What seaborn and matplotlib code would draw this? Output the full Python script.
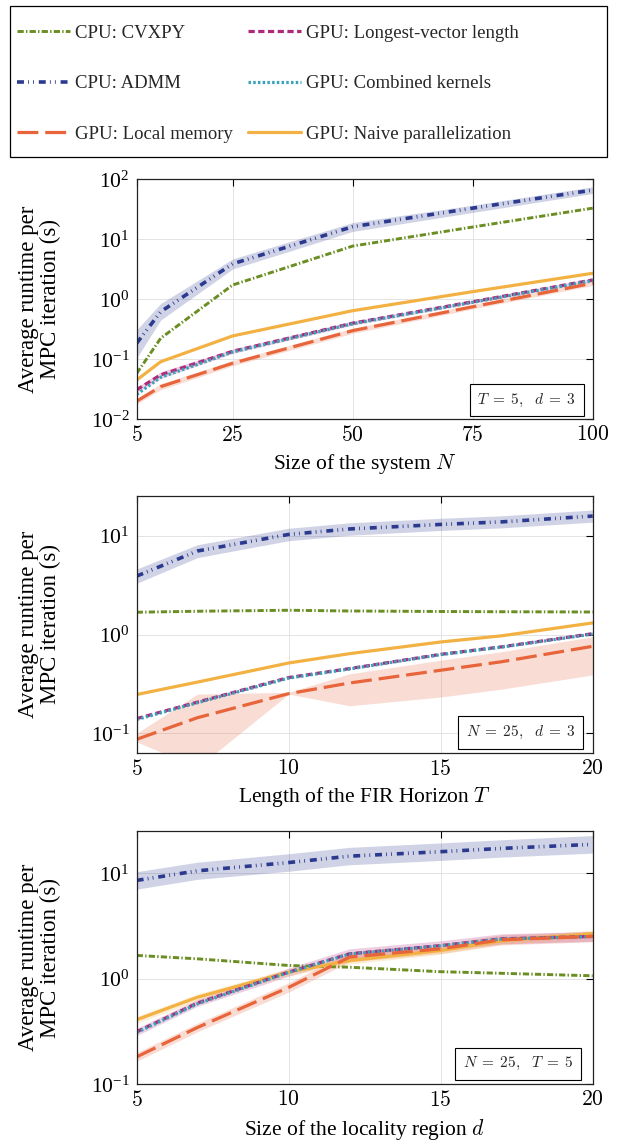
import numpy as np
import pandas as pd
import matplotlib
matplotlib.use('Agg')
import matplotlib.pyplot as plt
import seaborn as sns
from matplotlib.ticker import NullLocator, FuncFormatter
from matplotlib.patches import Rectangle

sns.set_theme(style='white')
plt.rcParams['font.family'] = ['Liberation Serif', 'DejaVu Serif']
plt.rcParams['mathtext.fontset'] = 'cm'
plt.rcParams['lines.scale_dashes'] = False

# panel 1: size of the system N  (T = 5, d = 3)
n_vals = [5, 10, 25, 50, 75, 100]
n_cvxpy = [0.058, 0.224, 1.73, 7.7, 16, 33]
n_admm = [0.185, 0.62, 3.9, 16.2, 33, 66]
n_admm_lo = [0.105, 0.45, 3.2, 13.5, 28, 58]
n_admm_hi = [0.31, 0.85, 4.7, 19, 37, 75]
n_local = [0.020, 0.035, 0.086, 0.30, 0.75, 1.85]
n_local_lo = [0.018, 0.031, 0.078, 0.27, 0.69, 1.7]
n_local_hi = [0.022, 0.039, 0.095, 0.33, 0.82, 2.0]
n_longest = [0.031, 0.055, 0.136, 0.40, 0.91, 2.1]
n_longest_lo = [0.028, 0.048, 0.125, 0.37, 0.85, 1.95]
n_longest_hi = [0.034, 0.062, 0.148, 0.43, 0.97, 2.25]
n_combined = [0.026, 0.050, 0.132, 0.39, 0.89, 2.05]
n_naive = [0.045, 0.091, 0.245, 0.645, 1.34, 2.71]

# panel 2: FIR horizon T  (N = 25, d = 3)
t_vals = [5, 7, 10, 12, 15, 17, 20]
t_cvxpy = [1.68, 1.72, 1.76, 1.73, 1.71, 1.70, 1.69]
t_admm = [3.9, 7.0, 10.3, 11.7, 13.0, 13.8, 15.8]
t_admm_lo = [3.3, 6.0, 8.9, 10.1, 11.3, 12.0, 13.7]
t_admm_hi = [4.6, 8.1, 11.9, 13.5, 15.0, 15.9, 18.2]
t_local = [0.087, 0.144, 0.252, 0.323, 0.435, 0.53, 0.76]
t_local_lo = [0.082, 0.045, 0.25, 0.19, 0.233, 0.28, 0.39]
t_local_hi = [0.10, 0.25, 0.26, 0.40, 0.55, 0.67, 0.95]
t_longest = [0.141, 0.207, 0.367, 0.452, 0.63, 0.75, 1.02]
t_combined = [0.138, 0.204, 0.362, 0.448, 0.625, 0.745, 1.01]
t_naive = [0.247, 0.33, 0.515, 0.64, 0.84, 0.97, 1.31]

# panel 3: locality region d  (N = 25, T = 5)
d_vals = [5, 7, 10, 12, 15, 17, 20]
d_cvxpy = [1.67, 1.55, 1.34, 1.29, 1.17, 1.13, 1.07]
d_admm = [8.6, 10.6, 12.7, 14.6, 16.1, 17.3, 18.9]
d_admm_lo = [7.1, 8.8, 10.5, 12.1, 13.3, 14.3, 15.6]
d_admm_hi = [10.4, 12.8, 15.4, 17.7, 19.5, 20.9, 22.9]
d_local = [0.182, 0.346, 0.83, 1.61, 1.93, 2.35, 2.53]
d_local_lo = [0.165, 0.315, 0.75, 1.45, 1.74, 2.1, 2.25]
d_local_hi = [0.2, 0.38, 0.92, 1.79, 2.14, 2.62, 2.82]
d_longest = [0.315, 0.59, 1.16, 1.73, 2.07, 2.4, 2.53]
d_longest_lo = [0.29, 0.55, 1.06, 1.55, 1.86, 2.15, 2.27]
d_longest_hi = [0.34, 0.64, 1.27, 1.93, 2.3, 2.68, 2.82]
d_combined = [0.31, 0.58, 1.15, 1.72, 2.06, 2.39, 2.52]
d_naive = [0.41, 0.67, 1.16, 1.49, 1.86, 2.3, 2.68]
d_naive_lo = [0.38, 0.62, 1.07, 1.38, 1.72, 2.13, 2.48]
d_naive_hi = [0.44, 0.72, 1.25, 1.61, 2.0, 2.48, 2.9]

labels = ['CPU: CVXPY', 'CPU: ADMM', 'GPU: Local memory',
          'GPU: Longest-vector length', 'GPU: Combined kernels',
          'GPU: Naive parallelization']

styles = {
    'CPU: CVXPY': dict(color='#6b8e23', lw=2.1, ls=(0, (4.5, 1.6, 1.0, 1.6))),
    'CPU: ADMM': dict(color='#2b3a8f', lw=2.6, ls=(0, (5.0, 3.0, 0.6, 3.0, 0.6, 3.5))),
    'GPU: Local memory': dict(color='#e8643a', lw=2.3, ls=(0, (15, 5))),
    'GPU: Longest-vector length': dict(color='#b0287a', lw=2.3, ls=(0, (4.5, 2.5))),
    'GPU: Combined kernels': dict(color='#3aa3bb', lw=2.3, ls=(0, (1.8, 1.6))),
    'GPU: Naive parallelization': dict(color='#f2b142', lw=2.3, ls='-'),
}
draw_order = ['CPU: CVXPY', 'CPU: ADMM', 'GPU: Naive parallelization',
              'GPU: Longest-vector length', 'GPU: Combined kernels', 'GPU: Local memory']

fig = plt.figure(figsize=(6.19, 11.44), dpi=100)


def panel(rect, x, series, bands, xlabel, note, ylim, xticks, box_xy):
    ax = fig.add_axes(rect)
    ax.set_yscale('log')
    for name, (lo, hi) in bands.items():
        ax.fill_between(x, lo, hi, color=styles[name]['color'], alpha=0.22, lw=0)
    for name in draw_order:
        st = styles[name]
        df = pd.DataFrame({'x': x, 'y': series[name]})
        sns.lineplot(data=df, x='x', y='y', ax=ax, color=st['color'], lw=st['lw'],
                     linestyle=st['ls'], label=name, legend=False)
    ax.set_xlim(x[0], x[-1])
    ax.set_ylim(*ylim)
    ax.set_xticks(xticks)
    ax.xaxis.set_major_formatter(FuncFormatter(lambda v, p: f'${v:g}$'))
    ax.yaxis.set_minor_locator(NullLocator())
    ax.grid(True, color='#e3e3e3', lw=0.7)
    ax.tick_params(direction='in', length=5, width=0.8, top=True, right=True,
                   labelsize=15.5, colors='black', pad=5)
    for sp in ax.spines.values():
        sp.set_color('#222222')
        sp.set_linewidth(0.9)
    ax.set_xlabel(xlabel, fontsize=15.5, color='black', labelpad=4)
    ax.set_ylabel('Average runtime per\nMPC iteration (s)', fontsize=16.5,
                  color='black', linespacing=1.1)
    ax.yaxis.set_label_coords(-0.165, 0.5)
    ax.text(box_xy[0], box_xy[1], note, transform=ax.transAxes, fontsize=11,
            ha='center', va='center',
            bbox=dict(boxstyle='square,pad=0.5', fc='white', ec='black', lw=0.8))
    return ax


ax1 = panel([0.2208, 0.6335, 0.7367, 0.2098], n_vals,
            {'CPU: CVXPY': n_cvxpy, 'CPU: ADMM': n_admm, 'GPU: Local memory': n_local,
             'GPU: Longest-vector length': n_longest, 'GPU: Combined kernels': n_combined,
             'GPU: Naive parallelization': n_naive},
            {'CPU: ADMM': (n_admm_lo, n_admm_hi), 'GPU: Local memory': (n_local_lo, n_local_hi),
             'GPU: Longest-vector length': (n_longest_lo, n_longest_hi)},
            'Size of the system $N$', r'$T\; =\; 5,\ \ d\; =\; 3$', (0.01, 100),
            [5, 25, 50, 75, 100], (0.855, 0.08))

ax2 = panel([0.2208, 0.342, 0.7367, 0.2247], t_vals,
            {'CPU: CVXPY': t_cvxpy, 'CPU: ADMM': t_admm, 'GPU: Local memory': t_local,
             'GPU: Longest-vector length': t_longest, 'GPU: Combined kernels': t_combined,
             'GPU: Naive parallelization': t_naive},
            {'CPU: ADMM': (t_admm_lo, t_admm_hi), 'GPU: Local memory': (t_local_lo, t_local_hi)},
            'Length of the FIR Horizon $T$', r'$N\; =\; 25,\ \ d\; =\; 3$', (0.0636, 25.4),
            [5, 10, 15, 20], (0.842, 0.079))

ax3 = panel([0.2208, 0.0522, 0.7367, 0.2214], d_vals,
            {'CPU: CVXPY': d_cvxpy, 'CPU: ADMM': d_admm, 'GPU: Local memory': d_local,
             'GPU: Longest-vector length': d_longest, 'GPU: Combined kernels': d_combined,
             'GPU: Naive parallelization': d_naive},
            {'CPU: ADMM': (d_admm_lo, d_admm_hi), 'GPU: Local memory': (d_local_lo, d_local_hi),
             'GPU: Longest-vector length': (d_longest_lo, d_longest_hi),
             'GPU: Naive parallelization': (d_naive_lo, d_naive_hi)},
            'Size of the locality region $d$', r'$N\; =\; 25,\ \ T\; =\; 5$', (0.1, 25.3),
            [5, 10, 15, 20], (0.837, 0.081))

# legend box drawn separately, pgfplots style (wider than the entries)
fig.patches.append(Rectangle((0.0162, 0.8628), 0.9645, 0.132, transform=fig.transFigure,
                             fill=False, ec='black', lw=0.9))
lines = {l.get_label(): l for l in ax1.get_lines()}
leg = fig.legend([lines[k] for k in labels], labels, loc='upper left',
                 bbox_to_anchor=(0.0275, 0.9785), ncol=2, fontsize=13.5, frameon=False,
                 handlelength=2.85, handletextpad=0.25, labelspacing=1.78,
                 borderpad=0, columnspacing=0.8, borderaxespad=0)

fig.savefig('out.png', dpi=100)
